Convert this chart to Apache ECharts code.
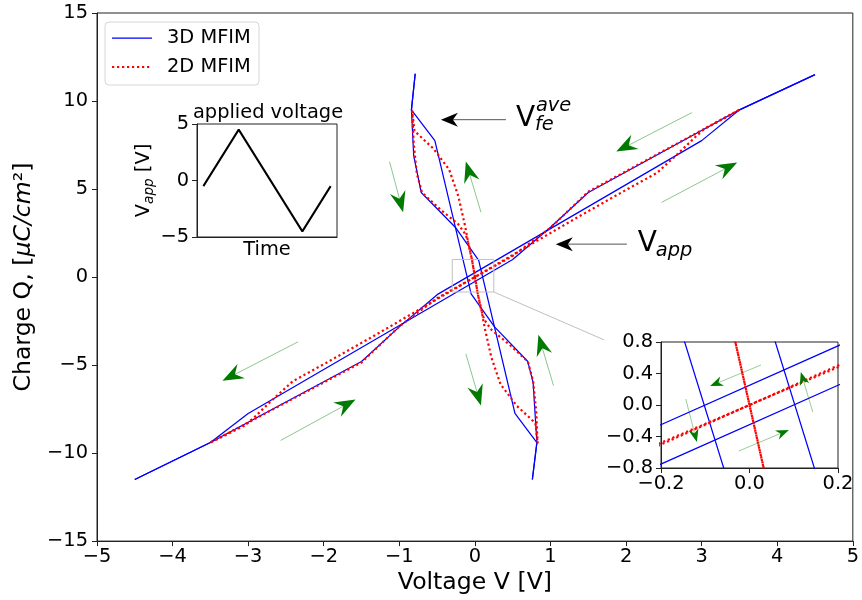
<!DOCTYPE html>
<html>
<head>
<meta charset="utf-8">
<script src="https://cdn.jsdelivr.net/npm/echarts/dist/echarts.min.js"></script>
<style>
  html, body { margin: 0; padding: 0; background: #fff; }
  #chart { width: 862px; height: 600px; }
</style>
</head>
<body>
<div id="chart"></div>
<script>
// ---- data: charge Q [uC/cm2] versus voltage [V] ----
// 3D MFIM, Q vs applied voltage (rising sweep, falling sweep)
const mfim3dVappRise = [[-4.5,-11.5],[-3.5,-9.4],[-1.5,-4.8],[-1.0,-2.83],[-0.5,-1.0],[3.0,7.75],[3.5,9.5],[4.5,11.5]];
const mfim3dVappFall = [[4.5,11.5],[3.5,9.5],[1.5,4.8],[1.0,2.83],[0.5,1.0],[-3.0,-7.75],[-3.5,-9.4],[-4.5,-11.5]];
// 3D MFIM, Q vs average ferroelectric voltage
const mfim3dVfeRise = [[0.76,-11.5],[0.82,-9.4],[0.77,-6.0],[0.70,-4.8],[0.26,-2.83],[-0.05,-0.95],[-0.53,7.75],[-0.84,9.5],[-0.79,11.55]];
const mfim3dVfeFall = [[-0.79,11.55],[-0.84,9.5],[-0.81,6.9],[-0.71,4.8],[-0.26,2.83],[0.05,0.95],[0.53,-7.75],[0.82,-9.4],[0.76,-11.5]];
// 2D MFIM, Q vs applied voltage
const mfim2dVappRise = [[-3.5,-9.4],[-1.5,-4.85],[-1.0,-2.8],[-0.5,-1.2],[0,0],[0.79,1.98],[1.36,3.4],[1.97,4.88],[2.41,5.92],[2.71,7.1],[2.89,7.85],[3.03,8.4],[3.5,9.5]];
const mfim2dVappFall = [[3.5,9.5],[1.5,4.85],[1.0,2.8],[0.5,1.2],[0,0],[-0.79,-1.98],[-1.36,-3.4],[-1.97,-4.88],[-2.41,-5.92],[-2.71,-7.1],[-2.89,-7.85],[-3.03,-8.4],[-3.5,-9.4]];
// 2D MFIM, Q vs average ferroelectric voltage
const mfim2dVfeRise = [[0.83,-9.45],[0.81,-7.6],[0.77,-5.9],[0.70,-4.8],[0.46,-3.85],[0.22,-3.0],[0.12,-2.4],[0.08,-1.8],[0.04,-1.0],[0,0],[-0.04,1.0],[-0.08,1.75],[-0.13,2.9],[-0.22,4.6],[-0.34,6.1],[-0.55,7.3],[-0.80,8.3],[-0.83,9.45]];
const mfim2dVfeFall = [[-0.83,9.45],[-0.81,7.6],[-0.77,5.9],[-0.70,4.8],[-0.46,3.85],[-0.22,3.0],[-0.12,2.4],[-0.08,1.8],[-0.04,1.0],[0,0],[0.04,-1.0],[0.08,-1.75],[0.13,-2.9],[0.22,-4.6],[0.34,-6.1],[0.55,-7.3],[0.80,-8.3],[0.83,-9.45]];

// applied voltage waveform (small inset)
const timeSteps = [0, 5, 14, 18];
const appliedVoltage = [-0.5, 4.5, -4.5, -0.5];

// axis ranges and ticks
const voltRange = [-5, 5], voltStep = 1;
const chargeRange = [-15, 15], chargeStep = 5;
const zoomVoltRange = [-0.2, 0.2], zoomVoltStep = 0.2;
const zoomChargeRange = [-0.8, 0.8], zoomChargeStep = 0.4;
const waveVoltTicks = [-5, 0, 5];

// sweep-direction arrows [fromV, fromQ, toV, toQ]
const loopArrows = [
  [2.87, 9.34, 1.87, 7.13],
  [2.47, 4.24, 3.47, 6.51],
  [-2.34, -3.68, -3.34, -5.89],
  [-2.57, -9.28, -1.58, -6.96],
  [-1.13, 6.56, -0.95, 3.68],
  [0.08, 3.68, -0.12, 6.56],
  [-0.12, -4.36, 0.08, -7.3],
  [1.04, -6.17, 0.84, -3.28]
];
const zoomArrows = [
  [0.026, 0.508, -0.089, 0.241],
  [-0.024, -0.584, 0.089, -0.317],
  [-0.144, 0.076, -0.119, -0.47],
  [0.143, -0.089, 0.116, 0.419]
];
// labelled pointers [fromV, fromQ, toV, toQ]
const vfePointer = [0.41, 8.94, -0.45, 8.94];
const vappPointer = [2.01, 1.87, 1.07, 1.87];
// region shown magnified: [V0, Q0, V1, Q1], and connector end
const zoomBox = [-0.30, 1.0, 0.25, -0.85];
const connectorEnd = [1.71, -3.57];

const FONT = 'DejaVu Sans';
const BLUE = '#0000ff', RED = '#ff0000';
const AX = '#222';
const TICK_FS = 19.4, LABEL_FS = 23.6;
const fmtMinus = v => String(v).replace('-', '\u2212');
const fmtOne = v => (Math.abs(v) < 1e-9 ? 0 : v).toFixed(1).replace('-', '\u2212');

const chart = echarts.init(document.getElementById('chart'));

function axisBase(grid) {
  return {
    gridIndex: grid, type: 'value',
    axisLine: { show: true, onZero: false, lineStyle: { color: AX, width: 1 } },
    axisTick: { show: true, length: 5, lineStyle: { color: AX, width: 1 } },
    axisLabel: { color: '#000', fontSize: TICK_FS, fontFamily: FONT, margin: 7 },
    splitLine: { show: false },
    nameTextStyle: { color: '#000', fontFamily: FONT }
  };
}

function curve(data, grid, color, dotted) {
  return {
    type: 'line', xAxisIndex: grid, yAxisIndex: grid, data: data,
    showSymbol: false, symbol: 'none', silent: true, clip: true,
    lineStyle: dotted
      ? { color: color, width: 2.2, type: [2.2, 2.8], cap: 'butt' }
      : { color: color, width: 1.25 }
  };
}

const curveSets = [
  [mfim3dVappRise, BLUE, false], [mfim3dVappFall, BLUE, false],
  [mfim3dVfeRise, BLUE, false], [mfim3dVfeFall, BLUE, false],
  [mfim2dVappRise, RED, true], [mfim2dVappFall, RED, true],
  [mfim2dVfeRise, RED, true], [mfim2dVfeFall, RED, true]
];

const series = [];
curveSets.forEach(c => series.push(curve(c[0], 0, c[1], c[2])));
curveSets.forEach(c => series.push(curve(c[0], 2, c[1], c[2])));
series.push({
  type: 'line', xAxisIndex: 1, yAxisIndex: 1, silent: true,
  data: timeSteps.map((t, i) => [t, appliedVoltage[i]]),
  showSymbol: false, symbol: 'none',
  lineStyle: { color: '#000', width: 2 }
});

const gridStyle = { show: true, borderColor: AX, borderWidth: 1, backgroundColor: '#fff' };

const option = {
  animation: false,
  backgroundColor: '#fff',
  textStyle: { fontFamily: FONT },
  grid: [
    Object.assign({ left: 97, right: 5, top: 13, bottom: 57 }, gridStyle),
    Object.assign({ left: 197, right: 525, top: 124, bottom: 363 }, gridStyle),
    Object.assign({ left: 661, right: 24, top: 342, bottom: 132 }, gridStyle)
  ],
  xAxis: [
    Object.assign(axisBase(0), {
      min: voltRange[0], max: voltRange[1], interval: voltStep,
      name: 'Voltage V [V]', nameLocation: 'middle', nameGap: 24,
      nameTextStyle: { color: '#000', fontFamily: FONT, fontSize: LABEL_FS },
      axisLabel: { color: '#000', fontSize: TICK_FS, fontFamily: FONT, margin: 6, formatter: fmtMinus }
    }),
    Object.assign(axisBase(1), {
      min: -0.9, max: 18.9,
      name: 'Time', nameLocation: 'middle', nameGap: 3,
      nameTextStyle: { color: '#000', fontFamily: FONT, fontSize: TICK_FS },
      axisTick: { show: false }, axisLabel: { show: false }
    }),
    Object.assign(axisBase(2), {
      min: zoomVoltRange[0], max: zoomVoltRange[1], interval: zoomVoltStep,
      axisLabel: { color: '#000', fontSize: TICK_FS, fontFamily: FONT, margin: 6, formatter: fmtOne }
    })
  ],
  yAxis: [
    Object.assign(axisBase(0), {
      min: chargeRange[0], max: chargeRange[1], interval: chargeStep,
      name: '{n|Charge Q, [}{i|\u03bcC/cm}{n|\u00b2]}', nameLocation: 'middle', nameGap: 56, nameRotate: 90,
      nameTextStyle: {
        color: '#000', fontFamily: FONT, fontSize: LABEL_FS,
        rich: {
          n: { fontSize: LABEL_FS, fontFamily: FONT, color: '#000' },
          i: { fontSize: LABEL_FS, fontFamily: FONT, fontStyle: 'italic', color: '#000' }
        }
      },
      axisLabel: { color: '#000', fontSize: TICK_FS, fontFamily: FONT, margin: 9, formatter: fmtMinus }
    }),
    Object.assign(axisBase(1), {
      min: waveVoltTicks[0], max: waveVoltTicks[2], interval: waveVoltTicks[1] - waveVoltTicks[0],
      name: '{n|V}{s|app}{n| [V]}', nameLocation: 'middle', nameGap: 40, nameRotate: 90,
      nameTextStyle: {
        color: '#000', fontFamily: FONT, fontSize: TICK_FS,
        rich: {
          n: { fontSize: TICK_FS, fontFamily: FONT, color: '#000', lineHeight: 26 },
          s: { fontSize: 13.6, fontFamily: FONT, fontStyle: 'italic', color: '#000', lineHeight: 13, verticalAlign: 'bottom' }
        }
      },
      axisLabel: { color: '#000', fontSize: TICK_FS, fontFamily: FONT, margin: 8, formatter: fmtMinus }
    }),
    Object.assign(axisBase(2), {
      min: zoomChargeRange[0], max: zoomChargeRange[1], interval: zoomChargeStep,
      axisLabel: { color: '#000', fontSize: TICK_FS, fontFamily: FONT, margin: 8, formatter: fmtOne }
    })
  ],
  series: series
};

chart.setOption(option);

// ---- annotations placed through the axes' own coordinate conversion ----
function px(grid, v, q) { return chart.convertToPixel({ gridIndex: grid }, [v, q]); }

function arrow(grid, a, shaftColor, headColor, L, W, notch, shaftWidth) {
  const p0 = px(grid, a[0], a[1]);
  const p1 = px(grid, a[2], a[3]);
  const dx = p1[0] - p0[0], dy = p1[1] - p0[1], len = Math.hypot(dx, dy);
  const ux = dx / len, uy = dy / len, nx = -uy, ny = ux;
  const bx = p1[0] - ux * L, by = p1[1] - uy * L;
  const mx = p1[0] - ux * (L - notch), my = p1[1] - uy * (L - notch);
  return [
    { type: 'line', silent: true, z: 10,
      shape: { x1: p0[0], y1: p0[1], x2: mx, y2: my },
      style: { stroke: shaftColor, lineWidth: shaftWidth } },
    { type: 'polygon', silent: true, z: 11,
      shape: { points: [[p1[0], p1[1]], [bx + nx * W, by + ny * W], [mx, my], [bx - nx * W, by - ny * W]] },
      style: { fill: headColor } }
  ];
}

function txt(x, y, s, size, italic, align) {
  return { type: 'text', silent: true, z: 12, x: x, y: y,
    style: { text: s, fill: '#000', fontFamily: FONT, fontSize: size,
             fontStyle: italic ? 'italic' : 'normal',
             align: align || 'left', verticalAlign: 'middle' } };
}

const graphics = [];
loopArrows.forEach(a => graphics.push(...arrow(0, a, 'rgba(0,128,0,0.45)', '#007a00', 21, 8, 7, 1)));
zoomArrows.forEach(a => graphics.push(...arrow(2, a, 'rgba(0,128,0,0.4)', '#007a00', 13, 5, 4, 1)));
graphics.push(...arrow(0, vfePointer, '#555', '#000', 17, 7, 5, 1));
graphics.push(...arrow(0, vappPointer, '#555', '#000', 17, 7, 5, 1));

// V_fe^ave label
const vfeAnchor = px(0, vfePointer[0], vfePointer[1]);
graphics.push(txt(vfeAnchor[0] + 10, vfeAnchor[1] - 1, 'V', 28, false));
graphics.push(txt(vfeAnchor[0] + 29, vfeAnchor[1] + 5, 'fe', 19.4, true));
graphics.push(txt(vfeAnchor[0] + 30, vfeAnchor[1] - 14, 'ave', 19.4, true));
// V_app label
const vappAnchor = px(0, vappPointer[0], vappPointer[1]);
graphics.push(txt(vappAnchor[0] + 11, vappAnchor[1], 'V', 28, false));
graphics.push(txt(vappAnchor[0] + 29, vappAnchor[1] + 7, 'app', 19.4, true));

// magnified region marker and connector
const zb0 = px(0, zoomBox[0], zoomBox[1]);
const zb1 = px(0, zoomBox[2], zoomBox[3]);
graphics.push({ type: 'rect', silent: true, z: 5,
  shape: { x: zb0[0], y: zb0[1], width: zb1[0] - zb0[0], height: zb1[1] - zb0[1] },
  style: { fill: 'none', stroke: '#c0c0c0', lineWidth: 1 } });
const ce = px(0, connectorEnd[0], connectorEnd[1]);
graphics.push({ type: 'line', silent: true, z: 5,
  shape: { x1: zb1[0], y1: zb1[1], x2: ce[0], y2: ce[1] },
  style: { stroke: '#c0c0c0', lineWidth: 1 } });

// waveform inset title
graphics.push(txt(268, 113, 'applied voltage', TICK_FS, false, 'center'));

// legend
graphics.push({ type: 'rect', silent: true, z: 20,
  shape: { x: 105, y: 22, width: 154, height: 63, r: 4 },
  style: { fill: 'rgba(255,255,255,0.8)', stroke: '#d6d6d6', lineWidth: 1 } });
graphics.push({ type: 'line', silent: true, z: 21,
  shape: { x1: 112, y1: 38, x2: 152, y2: 38 }, style: { stroke: BLUE, lineWidth: 1.25 } });
graphics.push({ type: 'line', silent: true, z: 21,
  shape: { x1: 112, y1: 67, x2: 152, y2: 67 },
  style: { stroke: RED, lineWidth: 2.2, lineDash: [2.2, 2.8] } });
const l1 = txt(167, 38, '3D MFIM', TICK_FS, false); l1.z = 21; graphics.push(l1);
const l2 = txt(167, 67, '2D MFIM', TICK_FS, false); l2.z = 21; graphics.push(l2);

chart.setOption({ graphic: graphics });
</script>
</body>
</html>
